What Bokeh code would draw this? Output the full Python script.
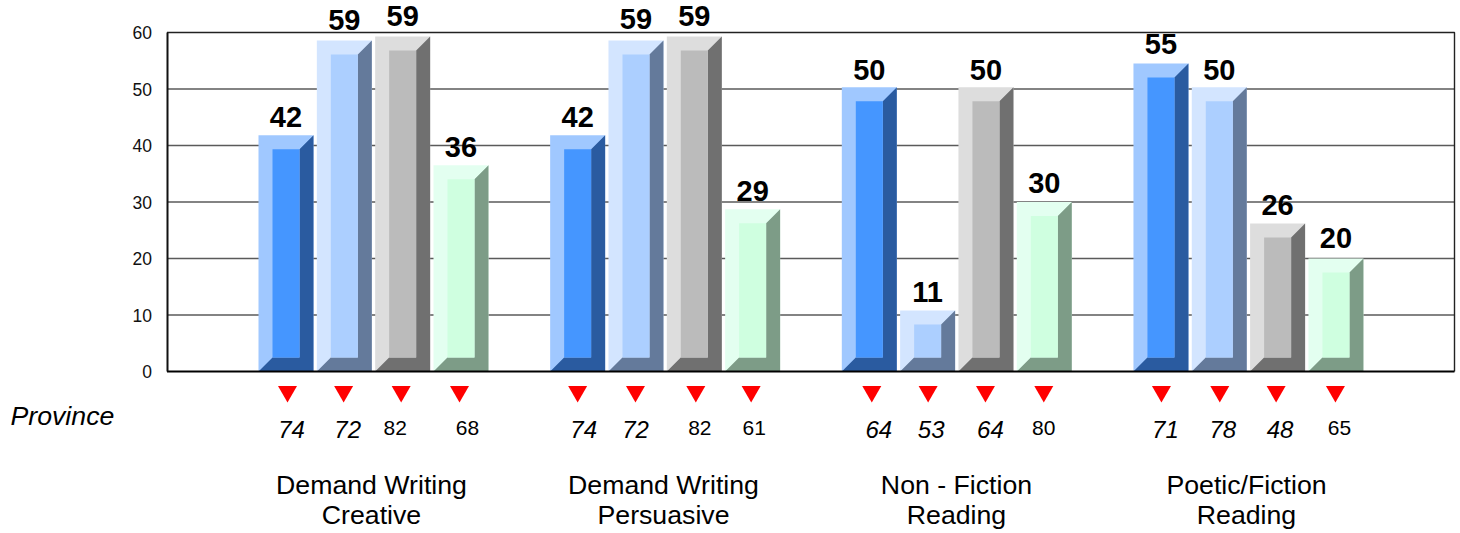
from bokeh.plotting import figure
from bokeh.models import Range1d, Label, FixedTicker
from bokeh.core.properties import value
from bokeh.embed import file_html
from bokeh.resources import INLINE

groups = [["Demand Writing", "Creative"], ["Demand Writing", "Persuasive"],
          ["Non - Fiction", "Reading"], ["Poetic/Fiction", "Reading"]]
blue = [41.8, 41.8, 50.3, 54.5]
light = [58.6, 58.6, 10.8, 50.3]
grey = [59.3, 59.3, 50.3, 26.2]
green = [36.5, 28.7, 30.0, 20.0]
blue_lbl = [42, 42, 50, 55]
light_lbl = [59, 59, 11, 50]
grey_lbl = [59, 59, 50, 26]
green_lbl = [36, 29, 30, 20]
prov_blue = [74, 74, 64, 71]
prov_light = [72, 72, 53, 78]
prov_grey = [82, 82, 64, 48]
prov_green = [68, 61, 80, 65]
prov_italic_grey = [False, False, True, True]
y_ticks = [0, 10, 20, 30, 40, 50, 60]

series = [
    (blue, blue_lbl, prov_blue, "#A0C8FF", "#4596FF", "#2A5BA0"),
    (light, light_lbl, prov_light, "#D3E5FF", "#ACCFFF", "#647A9B"),
    (grey, grey_lbl, prov_grey, "#DDDDDD", "#BBBBBB", "#707070"),
    (green, green_lbl, prov_green, "#E3FFF0", "#CFFFE0", "#7D9C87"),
]

# layout
PX_Y = 5.65
PX_X = 58.33
BASE_PAGE_Y = 371
X0_PAGE = 285.5
W, H = 1458, 531
AXIS_X = 166.5
BASE_K = 0.41  # the renderer sets alphabetic text lower than asked by this share of its size


def py(page_y):
    return (BASE_PAGE_Y - page_y) / PX_Y


def px(page_x):
    return (page_x - X0_PAGE) / PX_X


def tpy(page_y, size):
    return py(page_y - BASE_K * size)


p = figure(width=W, height=H, output_backend="svg", toolbar_location=None,
           x_range=Range1d(px(0), px(W)),
           y_range=Range1d(py(H), py(0)),
           x_axis_location=None, outline_line_color=None,
           min_border_left=0, min_border_right=0, min_border_top=0, min_border_bottom=0)
p.xgrid.visible = False
p.ygrid.visible = False
ax = p.yaxis[0]
ax.fixed_location = px(AXIS_X)
ax.ticker = FixedTicker(ticks=y_ticks)
ax.bounds = (0, 60)
ax.major_tick_line_color = None
ax.minor_tick_line_color = None
ax.axis_line_color = "#111111"
ax.axis_line_width = 2
ax.major_label_standoff = 9
ax.major_label_text_font = "Liberation Sans"
ax.major_label_text_font_size = "17.5px"
ax.major_label_text_color = "#111111"

xl, xr = px(AXIS_X), px(1454)
# gridlines and frame
p.multi_line([[xl, xr] for t in y_ticks[1:-1]], [[t, t] for t in y_ticks[1:-1]],
             line_color="#5a5a5a", line_width=1.3)
p.line([xl, xr, xr], [60, 60, 0], line_color="#222222", line_width=1.4)

BEV_X = 14 / PX_X
BEV_Y = 14 / PX_Y
HALF = 27.5 / PX_X

nudge_tri = [[1.5, -0.7, -1.5, -1.5], [0, -0.5, 1.5, -1.5], [2.5, 0.5, -0.5, -0.5], [0.5, 0.5, -1.5, -0.5]]
nudge_prov = [[5.5, 3.3, -7.5, 6.5], [6, -0.5, 5.5, 1.5], [9.5, 3.5, 4.5, -0.5], [4.5, 3.5, 2.5, 3.5]]
nudge_val = [[2, -1, -1, 2], [2, -1.5, -1, 2], [3, 1, 3, 1], [0, 3, 1, -1]]

for s, (vals, lbls, provs, c_light, c_mid, c_dark) in enumerate(series):
    for g, v in enumerate(vals):
        c = 5 * g + s
        l, r = c - HALF, c + HALF
        il, ir = l + BEV_X, r - BEV_X
        it, ib = v - BEV_Y, BEV_Y
        p.patch([l, r, r, l], [0, 0, v, v], fill_color=c_light, line_color=None)
        p.patch([r, r, l, il, ir, ir], [v, 0, 0, ib, ib, it], fill_color=c_dark, line_color=None)
        p.patch([il, ir, ir, il], [ib, ib, it, it], fill_color=c_mid, line_color=None)
        # value label
        p.text([c], [v + (8 - nudge_val[g][s] + BASE_K * 29) / PX_Y], text=[str(lbls[g])], text_align="center",
               text_baseline="alphabetic", text_font=value("Liberation Sans"), text_font_style="bold",
               text_font_size="29px", text_color="#000000")
        # red marker
        p.scatter([c + nudge_tri[g][s] / PX_X], [py(391)], marker="inverted_triangle", size=19,
                  fill_color="#FF0000", line_color=None)
        # province number
        italic = s < 2 or (s == 2 and prov_italic_grey[g])
        size = 24 if italic else 21
        p.text([c + nudge_prov[g][s] / PX_X], [tpy(439 if italic else 436, size)], text=[str(provs[g])],
               text_align="center", text_baseline="alphabetic", text_font=value("Liberation Sans"),
               text_font_style="italic" if italic else "normal",
               text_font_size=f"{size}px", text_color="#000000")

# baseline
p.line([xl, xr], [0, 0], line_color="#000000", line_width=2)

for g, lines in enumerate(groups):
    cx = [371, 663, 956, 1246][g]
    for i, t in enumerate(lines):
        p.text([px(cx)], [tpy(495 + 30 * i, 26.7)], text=[t], text_align="center", text_baseline="alphabetic",
               text_font=value("Liberation Sans"), text_font_size="26.7px", text_color="#000000")

p.text([px(10)], [tpy(426, 26.7)], text=["Province"], text_align="left", text_baseline="alphabetic",
       text_font=value("Liberation Sans"), text_font_style="italic", text_font_size="26.7px", text_color="#000000")

open("out.html", "w").write(file_html(p, INLINE))
